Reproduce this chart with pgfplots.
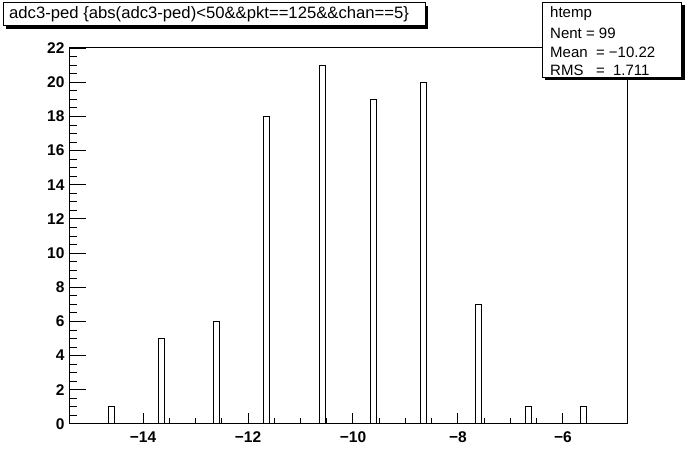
\documentclass[border=0pt]{standalone}
\usepackage{pgfplots}
\pgfplotsset{compat=1.18}
\usepackage{fontspec}
\setmainfont{Liberation Sans}
\begin{document}
\begin{tikzpicture}[x=1bp,y=1bp]
\useasboundingbox (0,0) rectangle (696,472);
\begin{axis}[
  at={(69bp,48bp)}, anchor=south west,
  width=558bp, height=376.7bp, scale only axis,
  xmin=-15.41, xmax=-4.78, ymin=0, ymax=22.05,
  axis line style={line width=1bp},
  every tick/.style={black, line width=1bp},
  xtick={-14,-12,-10,-8,-6},
  xticklabels={−14,−12,−10,−8,−6},
  ytick={0,2,...,22},
  minor x tick num=3, minor y tick num=3,
  tick align=inside,
  xtick pos=bottom, ytick pos=left,
  x tick style={/pgfplots/major tick length=11.3bp,/pgfplots/minor tick length=5.6bp},
  y tick style={/pgfplots/major tick length=16.7bp,/pgfplots/minor tick length=8.4bp},
  ticklabel style={font=\fontsize{15.5bp}{17bp}\selectfont\bfseries},
  /pgf/number format/assume math mode=true,
  xticklabel style={yshift=-4bp},
  yticklabel style={xshift=-1bp},
]
\addplot[const plot, line width=1bp, black] coordinates {
(-15.41,0) (-14.667,1) (-14.552,0) (-13.714,5) (-13.600,0) (-12.648,6) (-12.539,0)
(-11.701,18) (-11.587,0) (-10.634,21) (-10.520,0) (-9.669,19) (-9.554,0)
(-8.716,20) (-8.602,0) (-7.663,7) (-7.549,0) (-6.710,1) (-6.596,0)
(-5.663,1) (-5.549,0) (-4.78,0)};
\end{axis}
% title box
\fill[black] (6,443) rectangle (428,466);
\draw[line width=1bp, fill=white] (3,446) rectangle (425,469);
\node[anchor=west, inner sep=0pt] at (9,457.5)
  {\scalebox{1.01}[1]{\fontsize{16.5bp}{18bp}\selectfont adc3-ped \{abs(adc3-ped)<50\&\&pkt==125\&\&chan==5\}}};
% stats box
\fill[black] (545,391.5) rectangle (684.5,466.5);
\draw[line width=1bp, fill=white] (542.3,394.3) rectangle (681.7,469.3);
\begin{scope}[every node/.style={anchor=west, inner sep=0pt, font=\fontsize{15bp}{17bp}\selectfont}]
\node at (550,458) {htemp};
\node at (550,439) {Nent = 99};
\node at (550,420) {Mean\ \ = −10.22};
\node at (550,401.5) {RMS\ \ \ = \ 1.711};
\end{scope}
\end{tikzpicture}
\end{document}
